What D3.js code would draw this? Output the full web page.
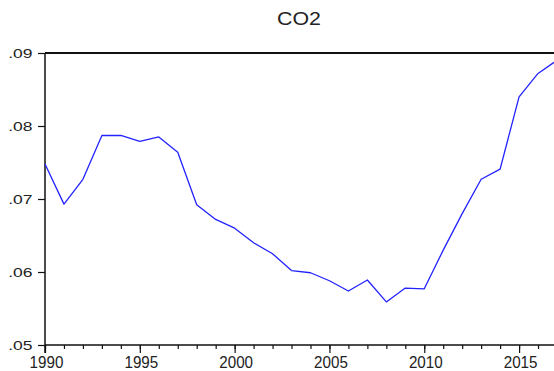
<!DOCTYPE html>
<html>
<head>
<meta charset="utf-8">
<script src="https://cdn.jsdelivr.net/npm/d3@7"></script>
<style>
  html, body { margin: 0; padding: 0; background: #fff; }
  svg { display: block; }
  text { font-family: "Liberation Sans", Arial, sans-serif; fill: #222; }
</style>
</head>
<body>
<svg id="chart" width="554" height="371"></svg>
<script>
const title = "CO2";
const years = [1990, 1991, 1992, 1993, 1994, 1995, 1996, 1997, 1998, 1999,
               2000, 2001, 2002, 2003, 2004, 2005, 2006, 2007, 2008, 2009,
               2010, 2011, 2012, 2013, 2014, 2015, 2016, 2017];
const co2 = [0.0748, 0.0693, 0.0727, 0.0787, 0.0787, 0.0779, 0.0785, 0.0764, 0.0692, 0.0672,
             0.0660, 0.0640, 0.0625, 0.0602, 0.0599, 0.0588, 0.0574, 0.0589, 0.0559, 0.0578,
             0.0577, 0.0630, 0.0680, 0.0727, 0.0741, 0.0840, 0.0872, 0.0890];
const yTicks = [0.05, 0.06, 0.07, 0.08, 0.09];
const yTickLabels = [".05", ".06", ".07", ".08", ".09"];
const xMajorTicks = [1990, 1995, 2000, 2005, 2010, 2015];
const xTickLabels = ["1990", "1995", "2000", "2005", "2010", "2015"];

const svg = d3.select("#chart");
const mLeft = 45, mRight = 557, mTop = 53, mBottom = 345;

const x = d3.scaleLinear().domain([1990, 2017]).range([mLeft, mRight]);
const y = d3.scaleLinear().domain([0.05, 0.09]).range([mBottom, mTop]);

// minor x ticks (every year)
const xMinor = d3.axisBottom(x).tickValues(years).tickSize(4).tickFormat("");
svg.append("g").attr("transform", `translate(0,${mBottom})`).call(xMinor)
  .call(g => g.select(".domain").remove())
  .call(g => g.selectAll("line").attr("stroke", "#111").attr("stroke-width", 1.2));

// major x ticks with labels
const xMajor = d3.axisBottom(x).tickValues(xMajorTicks).tickSize(8)
  .tickFormat((d, i) => xTickLabels[i]);
svg.append("g").attr("transform", `translate(0,${mBottom})`).call(xMajor)
  .call(g => g.select(".domain").remove())
  .call(g => g.selectAll("line").attr("stroke", "#111").attr("stroke-width", 1.2))
  .call(g => g.selectAll("text")
    .attr("font-size", 16.5).attr("fill", "#222")
    .attr("font-family", "Liberation Sans, Arial, sans-serif")
    .attr("dy", null).attr("y", null)
    .attr("transform", "translate(1,23) scale(0.92,1)")
    .attr("x", 0));

// y axis
const yAxis = d3.axisLeft(y).tickValues(yTicks).tickSize(7)
  .tickFormat((d, i) => yTickLabels[i]);
svg.append("g").attr("transform", `translate(${mLeft},0)`).call(yAxis)
  .call(g => g.select(".domain").remove())
  .call(g => g.selectAll("line").attr("stroke", "#111").attr("stroke-width", 1.2))
  .call(g => g.selectAll("text")
    .attr("font-size", 12.5).attr("fill", "#222")
    .attr("font-family", "Liberation Sans, Arial, sans-serif")
    .attr("x", null).attr("dy", null)
    .attr("transform", "translate(-12.5,4.5) scale(1.4,1)"));

// frame
svg.append("line").attr("x1", mLeft).attr("x2", mLeft).attr("y1", mTop).attr("y2", mBottom + 8)
  .attr("stroke", "#111").attr("stroke-width", 1.5);
svg.append("line").attr("x1", mLeft).attr("x2", mRight).attr("y1", mBottom).attr("y2", mBottom)
  .attr("stroke", "#111").attr("stroke-width", 1.5);
svg.append("line").attr("x1", mLeft).attr("x2", mRight).attr("y1", mTop).attr("y2", mTop)
  .attr("stroke", "#111").attr("stroke-width", 1.8);

// series line
const line = d3.line().x((d, i) => x(years[i])).y(d => y(d));
svg.append("path").datum(co2).attr("d", line)
  .attr("fill", "none").attr("stroke", "#2222ff").attr("stroke-width", 1.3)
  .attr("stroke-linejoin", "round");

// title
svg.append("text").attr("transform", `translate(${(mLeft + mRight) / 2 - 2},25) scale(1.22,1)`)
  .attr("text-anchor", "middle").attr("font-size", 17.5).text(title);
</script>
</body>
</html>
